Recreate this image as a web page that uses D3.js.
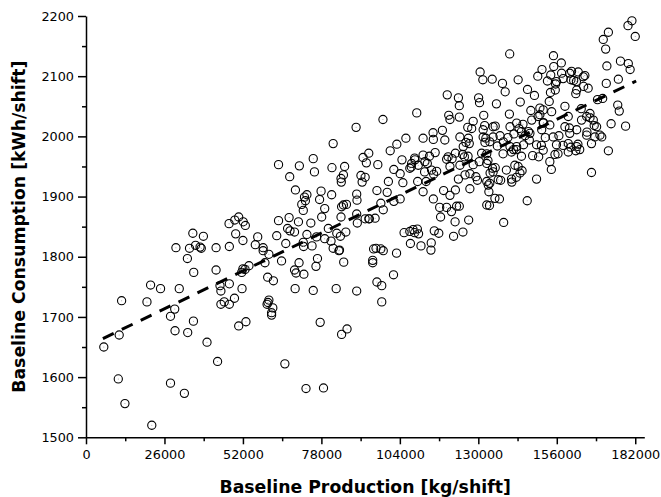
<!DOCTYPE html>
<html>
<head>
<meta charset="utf-8">
<script src="https://cdn.jsdelivr.net/npm/d3@7"></script>
<style>
  html, body { margin: 0; padding: 0; background: #fff; }
  svg { display: block; }
  .tick text { font-family: "DejaVu Sans", Verdana, sans-serif; fill: #000; }
</style>
</head>
<body>
<div id="chart"></div>
<script>
// == DATA ==
// baseline production [kg/shift] (thousands) and consumption [kWh/shift]
const prodK = [
  5.9, 11.0, 11.8, 10.7, 12.9, 20.2, 21.4, 24.7, 21.8, 28.0, 29.4, 30.9, 28.0, 29.5, 32.6, 29.8, 33.7, 33.6, 34.3, 35.4,
  35.7, 35.6, 36.3, 37.8, 38.2, 38.9, 40.1, 43.1, 43.1, 43.6, 44.4, 44.7, 44.7, 45.8, 47.5, 47.5, 47.4, 47.5, 49.2, 49.3,
  50.6, 52.1, 52.8, 49.6, 50.6, 51.6, 52.0, 52.0, 52.7, 51.7, 53.0, 54.0, 56.1, 56.9, 58.7, 58.7, 59.3, 60.6, 60.2, 60.6,
  60.3, 60.0, 61.9, 61.5, 61.5, 62.1, 63.8, 63.8, 63.2, 64.8, 66.2, 65.9, 67.5, 67.3, 67.6, 69.4, 69.1, 69.1, 69.3, 69.6,
  70.7, 70.4, 70.6, 71.5, 72.0, 72.1, 72.2, 72.4, 72.7, 73.2, 72.9, 72.0, 73.2, 74.5, 74.9, 75.3, 75.7, 75.3, 76.2, 76.7,
  77.6, 77.9, 77.4, 78.1, 78.7, 79.1, 79.1, 81.4, 81.5, 81.9, 81.2, 82.9, 83.8, 84.0, 84.3, 84.5, 84.5, 84.6, 84.7, 85.4,
  85.7, 86.3, 86.1, 84.7, 86.5, 89.5, 89.7, 89.7, 89.8, 89.9, 89.7, 91.1, 91.5, 91.8, 92.5, 92.9, 93.7, 93.7, 92.5, 93.9,
  95.0, 95.0, 95.3, 96.1, 96.4, 96.4, 96.7, 98.0, 98.0, 97.7, 97.7, 98.4, 98.5, 98.5, 99.8, 100.2, 100.8, 102.0, 102.0, 101.9,
  102.9, 103.0, 104.1, 104.1, 104.7, 105.0, 105.4, 106.0, 107.5, 107.8, 108.9, 108.9, 109.6, 109.8, 109.9, 110.2, 111.0, 111.7, 111.7, 111.7,
  112.2, 112.7, 113.1, 113.8, 114.3, 114.4, 115.0, 115.1, 115.2, 115.1, 115.4, 115.7, 116.2, 116.9, 117.2, 117.5, 118.1, 118.5, 118.9, 119.5,
  119.7, 119.5, 120.2, 120.6, 121.3, 121.1, 121.8, 122.3, 122.4, 122.4, 123.4, 123.7, 123.4, 123.7, 123.7, 124.8, 124.9, 125.4, 125.9, 126.5,
  126.6, 126.8, 127.0, 127.2, 127.2, 128.3, 128.3, 129.2, 129.7, 130.1, 130.4, 130.6, 131.8, 132.1, 131.5, 132.5, 132.2, 132.8, 133.2, 133.5,
  133.7, 133.9, 133.8, 134.6, 135.6, 136.0, 134.9, 135.6, 136.3, 137.0, 137.4, 138.0, 138.2, 138.4, 138.9, 139.3, 139.8, 140.4, 140.3, 141.1,
  141.7, 141.8, 142.6, 142.6, 143.2, 143.5, 143.9, 144.5, 144.8, 145.0, 145.5, 146.2, 146.3, 146.6, 146.9, 147.4, 148.0, 148.6, 149.3, 149.7,
  150.0, 150.4, 151.1, 150.9, 151.6, 152.2, 152.9, 153.5, 153.9, 154.2, 154.3, 154.9, 155.0, 155.6, 156.4, 156.7, 157.5, 158.1, 158.1, 158.7,
  159.8, 160.2, 160.6, 160.9, 161.6, 162.3, 163.0, 163.6, 164.1, 164.9, 165.3, 166.0, 166.4, 167.0, 167.5, 168.4, 168.6, 169.5, 170.3, 171.2,
  171.4, 172.2, 172.6, 172.4, 173.1, 173.1, 174.0, 176.2, 176.7, 176.4, 177.1, 178.8, 179.7, 179.6, 180.3, 180.9, 182.0,
  154.0, 157.6, 155.9, 155.5, 160.3, 163.1, 164.8, 160.7, 162.5, 162.6,
  131.1, 141.0, 144.3, 155.4, 159.8, 162.3, 120.6, 123.9, 130.3, 132.8, 134.7, 134.9, 142.1, 143.2, 143.8, 141.0, 136.6, 132.8, 133.3, 135.5,
  132.8, 125.6, 122.8, 153.7, 120.6,
  109.0, 107.9, 107.3, 110.1, 112.3, 114.5, 120.0, 85.3, 85.3, 95.8, 66.8, 76.4, 80.3, 83.1, 81.9, 107.3, 108.4,
  127.8, 123.9, 126.7, 125.0, 131.6, 131.6, 137.2, 134.9, 140.5, 142.7, 144.3, 147.1, 147.7, 150.4, 151.5, 149.8, 151.5, 151.0, 153.7, 154.8,
  155.9, 158.7, 160.3, 162.6, 164.2, 165.9, 167.0, 168.1, 169.2, 170.9, 165.9, 167.5, 162.6, 159.8, 140.5, 142.7, 133.8, 138.3, 149.3, 151.5
];
const consumption = [
  1650, 1670, 1727, 1597, 1556, 1725, 1753, 1747, 1520, 1701, 1713, 1747, 1590, 1677, 1573, 1815, 1674, 1797, 1814, 1839,
  1774, 1693, 1819, 1816, 1814, 1834, 1658, 1815, 1778, 1626, 1752, 1743, 1721, 1725, 1817, 1755, 1855, 1721, 1731, 1861,
  1866, 1858, 1852, 1838, 1685, 1774, 1827, 1780, 1779, 1747, 1692, 1785, 1820, 1833, 1815, 1810, 1790, 1804, 1766, 1728,
  1724, 1721, 1715, 1707, 1703, 1760, 1953, 1860, 1835, 1793, 1822, 1622, 1933, 1865, 1843, 1911, 1841, 1778, 1747, 1773,
  1951, 1858, 1790, 1887, 1877, 1817, 1771, 1899, 1893, 1903, 1581, 1824, 1837, 1856, 1818, 1963, 1941, 1744, 1784, 1797,
  1691, 1909, 1895, 1866, 1582, 1880, 1830, 1903, 1948, 1988, 1826, 1747, 1810, 1811, 1834, 1866, 1930, 1924, 1883, 1791,
  1950, 1887, 1841, 1671, 1680, 2015, 1904, 1871, 1894, 1856, 1743, 1935, 1924, 1965, 1932, 1956, 1972, 1863, 1863, 1863,
  1794, 1790, 1813, 1814, 1758, 1910, 1953, 1752, 1725, 1889, 1813, 2028, 1878, 1810, 1907, 1925, 1976, 1892, 1945, 1770,
  1806, 1987, 1938, 1896, 1961, 1923, 1840, 1997, 1822, 1949, 1964, 1840, 2039, 1846, 1925, 1838, 1818, 1997, 1969, 1908,
  1941, 1925, 1955, 1967, 1811, 1823, 2006, 1995, 1937, 1896, 1843, 1973, 1942, 1839, 1882, 1866, 2010, 1910, 1994, 1882,
  2069, 1962, 2035, 2028, 1963, 1875, 1834, 1858, 1972, 1911, 2064, 2051, 1929, 1884, 2032, 1970, 1841, 1966, 1990, 2015,
  1967, 1861, 1988, 1938, 1913, 2025, 1953, 1933, 1927, 2064, 2056, 2107, 2035, 2018, 2094, 1997, 1990, 1971, 1960, 1908,
  1885, 1939, 1922, 2095, 2017, 2054, 1999, 1948, 1984, 1896, 1927, 2088, 1971, 1857, 2074, 1944, 1998, 2137, 2037, 1924,
  1978, 2004, 1932, 1978, 2094, 2013, 2057, 1943, 2020, 1986, 2001, 1893, 2078, 2008, 1994, 2043, 1968, 2068, 1929, 2100,
  1966, 2036, 2111, 1985, 2023, 1998, 2092, 2058, 2073, 1945, 2041, 2134, 2116, 2087, 1971, 2001, 2122, 2096, 1985, 2050,
  2033, 2014, 1982, 2108, 2093, 2071, 1987, 1978, 2046, 2083, 2101, 2007, 2080, 2031, 1940, 2018, 1999, 2061, 2002, 2063,
  2161, 2145, 2117, 2088, 2173, 1976, 2021, 2052, 2042, 2095, 2125, 2017, 2121, 2184, 2111, 2192, 2166,
  2102, 2105, 2091, 2077, 2105, 2107, 2099, 2094, 2091, 2077,
  1972, 1974, 1967, 1970, 1974, 1976, 1950, 1952, 1958, 1955, 1947, 1941, 1952, 1950, 1939, 1929, 1928, 1925, 1919, 1897,
  1886, 1936, 1884, 1958, 1902,
  1961, 1955, 1947, 1952, 1958, 1944, 1966, 1936, 1886, 1864, 1847, 1833, 1847, 1839, 1814, 1842, 1845,
  2013, 1999, 1997, 1983, 2011, 1999, 2001, 2016, 2016, 2022, 2008, 2005, 2027, 2047, 2044, 2033, 2022, 2011, 2019, 1999,
  1986, 2016, 2005, 2011, 2027, 2033, 2038, 2027, 2016, 1999, 2002, 1988, 1983, 1988, 1983, 1983, 1991, 1991, 1986, 1977
];
// dashed fitted line, end points
const fitProd = [5600, 182300];
const fitCons = [1664, 2092];

const xMajor = [0, 26000, 52000, 78000, 104000, 130000, 156000, 182000];
const xMinor = [13000, 39000, 65000, 91000, 117000, 143000, 169000];
const yMajor = [1500, 1600, 1700, 1800, 1900, 2000, 2100, 2200];
const yMinor = [1550, 1650, 1750, 1850, 1950, 2050, 2150];

// == SETUP ==
const W = 661, H = 497;
const svg = d3.select('#chart').append('svg').attr('width', W).attr('height', H);

const x = d3.scaleLinear().domain([0, 185000]).range([86, 644.3]);
const y = d3.scaleLinear().domain([1500, 2200]).range([437.3, 16]);

const points = prodK.map((p, i) => ({ p: p * 1000, c: consumption[i] }));

// == AXES ==
const gx = svg.append('g').attr('transform', `translate(0,${y(1500)})`);
gx.call(d3.axisBottom(x).tickValues(xMajor).tickSize(7).tickSizeOuter(0).tickPadding(6).tickFormat(d3.format('d')));
gx.append('g').call(d3.axisBottom(x).tickValues(xMinor).tickSize(4).tickFormat(''))
  .select('.domain').remove();
gx.selectAll('.tick text').attr('font-size', '12.8px');

const gy = svg.append('g').attr('transform', `translate(${x(0)},0)`);
gy.call(d3.axisLeft(y).tickValues(yMajor).tickSize(8).tickSizeOuter(0).tickPadding(4).tickFormat(d3.format('d')));
gy.append('g').call(d3.axisLeft(y).tickValues(yMinor).tickSize(4).tickFormat(''))
  .select('.domain').remove();
gy.selectAll('.tick text').attr('font-size', '12.8px');

svg.selectAll('.domain, .tick line').attr('stroke', '#000').attr('stroke-width', 1.5);

// == MARKS ==
svg.append('g').selectAll('circle.pt').data(points).join('circle')
  .attr('class', 'pt')
  .attr('cx', d => x(d.p))
  .attr('cy', d => y(d.c))
  .attr('r', 4.1)
  .attr('fill', 'none')
  .attr('stroke', '#000')
  .attr('stroke-width', 1.1);

svg.append('g').selectAll('circle.dot').data(points).join('circle')
  .attr('class', 'dot')
  .attr('cx', d => x(d.p))
  .attr('cy', d => y(d.c))
  .attr('r', 0.5)
  .attr('fill', '#999');

svg.append('line')
  .attr('x1', x(fitProd[0])).attr('y1', y(fitCons[0]))
  .attr('x2', x(fitProd[1])).attr('y2', y(fitCons[1]))
  .attr('stroke', '#000')
  .attr('stroke-width', 3)
  .attr('stroke-dasharray', '12,9');

// == TITLES ==
svg.append('text')
  .attr('x', (x(0) + 644.3) / 2)
  .attr('y', 492.5)
  .attr('text-anchor', 'middle')
  .attr('font-family', '"DejaVu Sans", Verdana, sans-serif')
  .attr('font-weight', 'bold')
  .attr('font-size', '17.3px')
  .text('Baseline Production [kg/shift]');

svg.append('text')
  .attr('transform', `translate(24.5,${(16 + 437.3) / 2}) rotate(-90)`)
  .attr('text-anchor', 'middle')
  .attr('font-family', '"DejaVu Sans", Verdana, sans-serif')
  .attr('font-weight', 'bold')
  .attr('font-size', '17.3px')
  .text('Baseline Consumption [kWh/shift]');
</script>
</body>
</html>
